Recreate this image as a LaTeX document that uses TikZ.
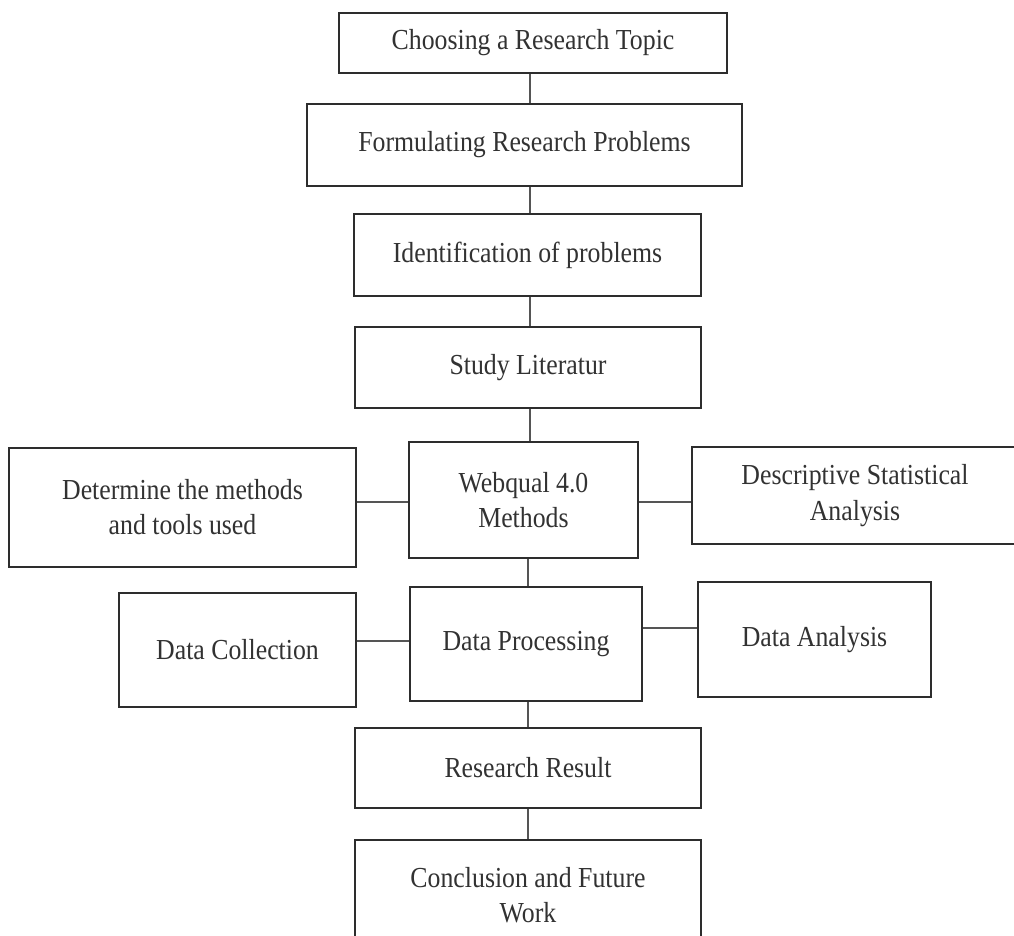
\documentclass[tikz,border=0pt]{standalone}
\usepackage{fontspec}
\setmainfont{Liberation Serif}[FakeStretch=0.89]
\definecolor{boxline}{RGB}{45, 45, 45}
\definecolor{linkline}{RGB}{85, 85, 85}
\definecolor{labeltext}{RGB}{50, 50, 50}
\usetikzlibrary{positioning, calc}

\begin{document}
\begin{tikzpicture}[x=0.02cm, y=-0.02cm,
    stagebox/.style={draw=boxline, line width=1.3pt, fill=white, align=center,
      text=labeltext, inner sep=2pt, font=\fontsize{16.5}{20}\selectfont},
    link/.style={draw=linkline, line width=0.7pt}]
  % Frame
  \clip (0, 0) rectangle (1014, 936);
  \fill[white] (0, 0) rectangle (1014, 936);
  \coordinate (spine) at (530, 0);

  % Main column
  \node[stagebox, minimum width=7.76cm, minimum height=1.2cm] (topic) at (533, 43) {Choosing a Research Topic};
  \node[stagebox, minimum width=8.7cm, minimum height=1.64cm] (formulate) at (524.5, 145) {Formulating Research Problems};
  \node[stagebox, minimum width=6.94cm, minimum height=1.64cm] (identify) at (527.5, 255) {Identification of problems};
  \node[stagebox, minimum width=6.92cm, minimum height=1.62cm] (study) at (528, 367.5) {Study Literatur};
  \node[stagebox, minimum width=4.58cm, minimum height=2.32cm] (webqual) at (523.5, 500) {Webqual 4.0\\Methods};
  \node[stagebox, minimum width=4.64cm, minimum height=2.28cm] (process) at (526, 644) {Data Processing};
  \node[stagebox, minimum width=6.92cm, minimum height=1.6cm] (result) at (528, 768) {Research Result};
  \node[stagebox, minimum width=6.92cm, minimum height=2.2cm] (conclude) at (528, 895) {Conclusion and Future\\Work};

  % Side boxes
  \node[stagebox, minimum width=6.94cm, minimum height=2.38cm] (methods) at (182.5, 507.5) {Determine the methods\\and tools used};
  \node[stagebox, minimum width=6.52cm, minimum height=1.94cm] (descriptive) at (855, 495.5) {Descriptive Statistical\\Analysis};
  \node[stagebox, minimum width=4.74cm, minimum height=2.28cm] (collect) at (237.5, 650) {Data Collection};
  \node[stagebox, minimum width=4.66cm, minimum height=2.3cm] (analysis) at (814.5, 639.5) {Data Analysis};

  % Vertical links
  \foreach \a/\b in {topic/formulate, formulate/identify, identify/study, study/webqual}
    \draw[link] (\a.south -| spine) -- (\b.north -| spine);
  \foreach \a/\b in {webqual/process, process/result, result/conclude}
    \draw[link] ([xshift=-0.04cm]\a.south -| spine) -- ([xshift=-0.04cm]\b.north -| spine);

  % Horizontal links
  \draw[link] ([yshift=-0.04cm]webqual.west) -- ([yshift=-0.04cm]webqual.west -| methods.east);
  \draw[link] ([yshift=-0.04cm]webqual.east) -- ([yshift=-0.04cm]webqual.east -| descriptive.west);
  \draw[link] ([yshift=0.06cm]process.west) -- ([yshift=0.06cm]process.west -| collect.east);
  \draw[link] ([yshift=0.23cm]analysis.west) -- ([yshift=0.23cm]analysis.west -| process.east);
\end{tikzpicture}
\end{document}
